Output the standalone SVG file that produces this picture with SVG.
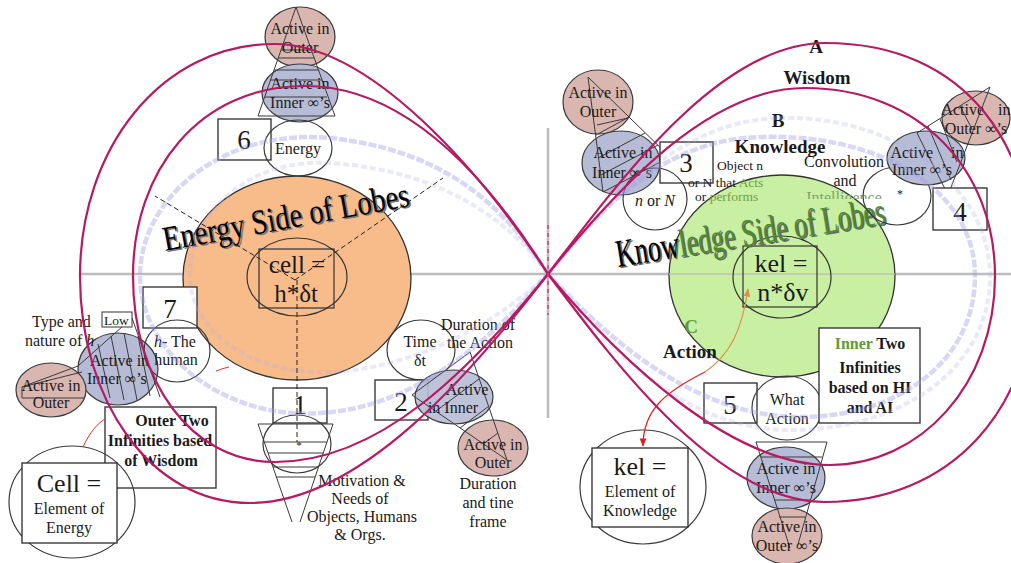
<svg xmlns="http://www.w3.org/2000/svg" width="1011" height="563" viewBox="0 0 1011 563">
<defs>
<style>
.t{font-family:"Liberation Serif","Times New Roman",serif;font-size:16px;fill:#1a1a1a;text-anchor:middle}
.s{text-anchor:start}
.b{font-weight:bold}
.it{font-style:italic}
.num{font-size:27px}
.big{font-size:26px}
.sm{font-size:13.5px}
.lbl{font-size:19px}
.pink{fill:#DAB6B1;stroke:#3a3a3a;stroke-width:1.2}
.blue{fill:#B7BCD6;stroke:#3a3a3a;stroke-width:1.2}
.oc{fill:none;stroke:#3a3a3a;stroke-width:1.2}
.box{fill:#fff;stroke:#2a2a2a;stroke-width:1.3}
.ln{fill:none;stroke:#3a3a3a;stroke-width:1}
.mag{fill:none;stroke:#B51A62;stroke-width:2.2}
.band{fill:none;stroke:#9E9EE8;stroke-width:4.5;opacity:.4;stroke-dasharray:8 2}
.band2{fill:none;stroke:#B0B0EE;stroke-width:4;opacity:.28;stroke-dasharray:6 3}
.dash{fill:none;stroke:#222;stroke-width:1;stroke-dasharray:5 3}
.axis{stroke:#BDBDBD;stroke-width:2.5}
.title{font-family:"Liberation Serif","Times New Roman",serif;text-anchor:start}
.grn{fill:#5E9A3A}
.lgrn{fill:#6F9F45}
</style>
<marker id="arR" viewBox="0 0 10 10" refX="9" refY="5" markerWidth="7" markerHeight="7" orient="auto"><path d="M0,1 L10,5 L0,9 z" fill="#E02020"/></marker>
<marker id="arO" viewBox="0 0 10 10" refX="9" refY="5" markerWidth="7" markerHeight="7" orient="auto"><path d="M0,1 L10,5 L0,9 z" fill="#D9904A"/></marker>
<clipPath id="clipInt"><rect x="790" y="180" width="110" height="19"/></clipPath>
</defs>
<rect width="1011" height="563" fill="#fff"/>

<g id="axes">
<line class="axis" x1="80" y1="274" x2="1011" y2="274"/>
<line class="axis" x1="548" y1="128" x2="548" y2="418" stroke-width="3"/>
</g>

<g id="energy-core">
<ellipse cx="297" cy="278" rx="114" ry="102" fill="#F8BB8A" stroke="#333" stroke-width="1.3"/>
<ellipse cx="297" cy="277" rx="50" ry="39" fill="none" stroke="#333" stroke-width="1.2"/>
<rect x="259" y="249" width="75" height="59" fill="none" stroke="#333" stroke-width="1.2"/>
<text class="t" x="297" y="273" style="font-size:25px">cell =</text>
<text class="t" x="296" y="302" style="font-size:25px">h*δt</text>
<g transform="translate(165,251) rotate(-10.4)">
<text class="title" x="1.5" y="1.5" font-size="35" textLength="250" lengthAdjust="spacingAndGlyphs" fill="#777">Energy Side of Lobes</text>
<text class="title" x="0" y="0" font-size="35" textLength="250" lengthAdjust="spacingAndGlyphs" fill="#000">Energy Side of Lobes</text>
</g>
</g>

<g id="knowledge-core">
<ellipse cx="782" cy="276" rx="113" ry="101" fill="#C9F0A2" stroke="#333" stroke-width="1.3"/>
<line x1="669" y1="274" x2="895" y2="274" stroke="#BDBDBD" stroke-width="2" opacity="0.7"/>
<ellipse cx="782" cy="277" rx="49" ry="41" fill="none" stroke="#333" stroke-width="1.2"/>
<rect x="743" y="246" width="74" height="61" fill="none" stroke="#333" stroke-width="1.2"/>
<text class="t big" x="781" y="272">kel =</text>
<text class="t big" x="783" y="301">n*δv</text>
<text class="t" x="844" y="203" clip-path="url(#clipInt)" style="fill:#7FA272">Intelligence</text>
<g transform="translate(618,267) rotate(-9.2)">
<text class="title" x="1.5" y="1.5" font-size="39" textLength="272" lengthAdjust="spacingAndGlyphs" fill="#666">Knowledge Side of Lobes</text>
<text class="title" x="0" y="0" font-size="39" textLength="272" lengthAdjust="spacingAndGlyphs"><tspan fill="#000">Know</tspan><tspan fill="#4E8B2E">ledge Side of Lobes</tspan></text>
</g>
</g>

<g id="n6">
<ellipse class="pink" cx="300" cy="37" rx="35" ry="30"/>
<ellipse class="blue" cx="300" cy="93" rx="38" ry="29"/>
<polygon class="ln" points="296,7 258,116 335,116"/>
<line class="ln" x1="281" y1="50" x2="311" y2="50"/>
<line class="ln" x1="278" y1="58" x2="314" y2="58"/>
<line class="ln" x1="274" y1="70" x2="318" y2="70"/>
<line class="ln" x1="270" y1="80" x2="322" y2="80"/>
<line class="ln" x1="265" y1="97" x2="327" y2="97"/>
<text class="t" x="300" y="34">Active in</text>
<text class="t" x="300" y="53">Outer</text>
<text class="t" x="300" y="89">Active in</text>
<text class="t" x="300" y="108">Inner ∞’s</text>
<rect class="box" x="218" y="119" width="53" height="41"/>
<text class="t num" x="244" y="149">6</text>
<ellipse class="oc" cx="298" cy="148" rx="34" ry="28"/>
<text class="t" x="298" y="154">Energy</text>
</g>

<g id="n7">
<rect class="box" x="143" y="287" width="54" height="41"/>
<text class="t num" x="170" y="318">7</text>
<ellipse class="blue" cx="118" cy="369" rx="40" ry="36"/>
<ellipse class="pink" cx="51" cy="390" rx="35" ry="27"/>
<polyline class="ln" points="132,318 78,366 22,387 22,398 84,398"/>
<line class="ln" x1="132" y1="318" x2="160" y2="397"/>
<line class="ln" x1="22" y1="387" x2="82" y2="372"/>
<line class="ln" x1="98" y1="344" x2="110" y2="398"/>
<line class="ln" x1="111" y1="336" x2="124" y2="400"/>
<line class="ln" x1="124" y1="333" x2="137" y2="400"/>
<line class="ln" x1="138" y1="336" x2="150" y2="396"/>
<ellipse class="oc" cx="177" cy="351" rx="33" ry="31"/>
<text class="t" x="175" y="347"><tspan class="it">h</tspan>- The</text>
<text class="t" x="176" y="365">human</text>
<text class="t s" x="90" y="366">Active in</text>
<text class="t s" x="87" y="384">Inner ∞’s</text>
<text class="t" x="51" y="391">Active in</text>
<text class="t" x="51" y="408">Outer</text>
<text class="t s" x="32" y="327">Type and</text>
<text class="t s" x="25" y="346">nature of <tspan class="it">h</tspan></text>
<rect x="102" y="312" width="30" height="15" fill="#fff" stroke="#333" stroke-width="1"/>
<text class="t s sm" x="104" y="325">Low</text>
</g>

<g id="outer-two">
<rect class="box" x="105" y="407" width="111" height="81"/>
<text class="t b" x="172" y="426">Outer Two</text>
<text class="t b" x="160" y="446">Infinities based</text>
<text class="t b" x="161" y="466">of Wisdom</text>
</g>

<g id="cell">
<ellipse class="oc" cx="72" cy="502" rx="63" ry="56"/>
<rect class="box" x="22" y="463" width="95" height="80"/>
<text class="t big" x="69" y="492">Cell =</text>
<text class="t" x="69" y="514">Element of</text>
<text class="t" x="69" y="533">Energy</text>
</g>

<g id="n1">
<rect class="box" x="273" y="388" width="54" height="35"/>
<text class="t num" x="300" y="414">1</text>
<ellipse class="oc" cx="297" cy="444" rx="34" ry="29"/>
<polyline class="ln" points="292,522 258,424 333,424 300,522"/>
<line class="ln" x1="264" y1="442" x2="327" y2="442"/>
<line class="ln" x1="268" y1="453" x2="323" y2="453"/>
<line class="ln" x1="273" y1="467" x2="318" y2="467"/>
<line class="ln" x1="276" y1="477" x2="315" y2="477"/>
<text class="t" x="299" y="449" style="font-size:11px">*</text>
<text class="t" x="362" y="486">Motivation &amp;</text>
<text class="t" x="360" y="504">Needs of</text>
<text class="t" x="362" y="522">Objects, Humans</text>
<text class="t" x="360" y="540">&amp; Orgs.</text>
</g>

<g id="n2">
<ellipse class="oc" cx="421" cy="350" rx="34" ry="30"/>
<text class="t" x="420" y="347">Time</text>
<text class="t" x="420" y="366">δt</text>
<text class="t" x="478" y="330">Duration of</text>
<text class="t" x="480" y="348">the Action</text>
<rect class="box" x="375" y="380" width="53" height="40"/>
<text class="t num" x="401" y="411">2</text>
<ellipse class="blue" cx="454" cy="397" rx="39" ry="27" fill-opacity="0.9"/>
<ellipse class="pink" cx="493" cy="448" rx="35" ry="28"/>
<polygon class="ln" points="412,395 470,352 507,460"/>
<line class="ln" x1="436" y1="411" x2="479" y2="379"/>
<line class="ln" x1="460" y1="428" x2="489" y2="406"/>
<line class="ln" x1="483" y1="444" x2="498" y2="433"/>
<text class="t" x="467" y="395">Active</text>
<text class="t" x="453" y="413">in Inner</text>
<text class="t" x="493" y="450">Active in</text>
<text class="t" x="493" y="468">Outer</text>
<text class="t" x="488" y="489">Duration</text>
<text class="t" x="488" y="508">and tine</text>
<text class="t" x="488" y="527">frame</text>
</g>

<g id="n3">
<ellipse class="pink" cx="598" cy="102" rx="35" ry="32"/>
<ellipse class="blue" cx="621" cy="163" rx="39" ry="32"/>
<polygon class="ln" points="588,77 670,157 603,192"/>
<line class="ln" x1="597" y1="125" x2="628" y2="118"/>
<line class="ln" x1="629" y1="117" x2="596" y2="135"/>
<line class="ln" x1="645" y1="133" x2="598" y2="158"/>
<line class="ln" x1="658" y1="145" x2="601" y2="175"/>
<text class="t" x="598" y="98">Active in</text>
<text class="t" x="598" y="117">Outer</text>
<text class="t" x="623" y="158">Active in</text>
<text class="t" x="622" y="178">Inner ∞’s</text>
<rect class="box" x="660" y="142" width="53" height="41"/>
<text class="t num" x="686" y="172">3</text>
<ellipse class="oc" cx="655" cy="199" rx="32" ry="31"/>
<text class="t" x="655" y="206"><tspan class="it">n</tspan> or <tspan class="it">N</tspan></text>
<text class="t s sm" x="717" y="170">Object n</text>
<text class="t s sm" x="688" y="187">or N that <tspan class="lgrn">Acts</tspan></text>
<text class="t s sm" x="695" y="201">or <tspan class="lgrn">performs</tspan></text>
</g>

<g id="n4">
<ellipse class="oc" cx="897" cy="196" rx="34" ry="29"/>
<text class="t" x="900" y="198" style="font-size:12px">*</text>
<ellipse class="blue" cx="926" cy="158" rx="39" ry="27"/>
<ellipse class="pink" cx="976" cy="118" rx="34" ry="27"/>
<polygon class="ln" points="990,87 917,133 948,195"/>
<line class="ln" x1="960" y1="106" x2="972" y2="129"/>
<line class="ln" x1="940" y1="119" x2="957" y2="162"/>
<line class="ln" x1="928" y1="126" x2="951" y2="180"/>
<text class="t" x="927" y="158" word-spacing="14">Active in</text>
<text class="t" x="922" y="175">Inner ∞’s</text>
<text class="t" x="976" y="115" word-spacing="10">Active in</text>
<text class="t" x="976" y="134">Outer ∞’s</text>
<rect class="box" x="933" y="188" width="54" height="42"/>
<text class="t num" x="960" y="221">4</text>
<text class="t" x="844" y="167">Convolution</text>
<text class="t" x="845" y="186">and</text>
</g>

<g id="n5">
<rect class="box" x="704" y="383" width="53" height="40"/>
<text class="t num" x="730" y="414">5</text>
<ellipse class="oc" cx="787" cy="408" rx="35" ry="32"/>
<text class="t" x="787" y="405">What</text>
<text class="t" x="787" y="424">Action</text>
<ellipse class="blue" cx="786" cy="478" rx="39" ry="31"/>
<ellipse class="pink" cx="787" cy="536" rx="35" ry="28"/>
<polyline class="ln" points="790,548 756,442 827,442 797,548"/>
<line class="ln" x1="761" y1="457" x2="822" y2="457"/>
<line class="ln" x1="774" y1="500" x2="810" y2="500"/>
<line class="ln" x1="779" y1="517" x2="805" y2="517"/>
<text class="t" x="786" y="474">Active in</text>
<text class="t" x="786" y="493">Inner ∞’s</text>
<text class="t" x="787" y="532">Active in</text>
<text class="t" x="787" y="551">Outer ∞’s</text>
</g>

<g id="inner-two">
<rect class="box" x="819" y="328" width="101" height="95"/>
<text class="t b" x="870" y="349"><tspan class="grn">Inner</tspan> Two</text>
<text class="t b" x="870" y="373">Infinities</text>
<text class="t b" x="870" y="393">based on HI</text>
<text class="t b" x="870" y="413">and AI</text>
</g>

<g id="kel-element">
<ellipse class="oc" cx="643" cy="487" rx="63" ry="57"/>
<rect class="box" x="592" y="448" width="96" height="79"/>
<text class="t big" x="640" y="475">kel =</text>
<text class="t" x="640" y="497">Element of</text>
<text class="t" x="640" y="516">Knowledge</text>
</g>

<g id="labels">
<text class="t b lbl" x="816" y="53">A</text>
<text class="t b lbl" x="817" y="84">Wisdom</text>
<text class="t b lbl" x="778" y="127">B</text>
<text class="t b lbl" x="780" y="153">Knowledge</text>
<text class="t b lbl" x="691" y="333" style="fill:#5E9A3A">C</text>
<text class="t b lbl" x="690" y="358">Action</text>
</g>

<g id="connectors">
<path class="band" d="M548,274 C500,200 440,150 330,138 C220,128 140,200 140,276 C140,350 220,420 320,413 C420,408 500,330 548,274"/>
<path class="band2" d="M548,274 C510,220 440,170 330,163 C240,158 190,220 190,276 C190,330 250,375 330,372 C420,368 500,320 548,274"/>
<path class="band" d="M548,274 C600,210 660,140 760,137 C880,133 975,190 975,276 C975,360 900,417 800,417 C690,417 600,330 548,274"/>
<path class="band2" d="M548,274 C610,200 680,120 780,118 C900,115 990,190 990,276 C990,370 900,430 790,430 C680,430 600,340 548,274"/>
<path class="mag" d="M548,274 C480,170 370,44 275,44 C160,44 80,150 80,276 C80,400 150,503 250,503 C360,503 470,375 548,274"/>
<path class="mag" d="M548,274 C480,165 400,86 305,86 C200,86 133,170 133,276 C133,380 190,462 275,462 C380,462 470,370 548,274"/>
<path class="mag" d="M548,274 C620,180 720,43 825,43 C970,43 1035,150 1035,276 C1035,410 950,502 825,502 C720,502 620,370 548,274"/>
<path class="mag" d="M548,274 C620,185 710,88 805,88 C920,88 995,170 995,276 C995,385 920,465 830,465 C730,465 620,360 548,274"/>
<line x1="548" y1="225" x2="548" y2="315" stroke="#D04080" stroke-width="1.5" stroke-dasharray="4 4"/>
<line class="dash" x1="295" y1="280" x2="155" y2="196"/>
<line class="dash" x1="295" y1="280" x2="443" y2="178"/>
<line class="dash" x1="297" y1="280" x2="297" y2="442"/>
<path d="M83,447 C90,432 97,424 105,419" fill="none" stroke="#E03030" stroke-width="1"/>
<path d="M216,371 C221,369 225,368 229,367" fill="none" stroke="#E03030" stroke-width="1"/>
<path d="M705,372 C730,355 742,330 748,289" fill="none" stroke="#D9904A" stroke-width="1.2" marker-end="url(#arO)"/>
<path d="M705,372 C665,392 643,410 643,446" fill="none" stroke="#E02020" stroke-width="1.2" marker-end="url(#arR)"/>
</g>
</svg>
